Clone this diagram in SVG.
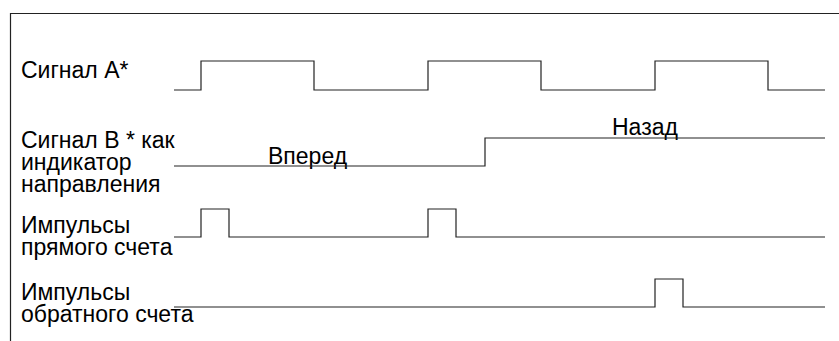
<svg xmlns="http://www.w3.org/2000/svg" width="839" height="341" viewBox="0 0 839 341">
<style>
.t{font-family:"Liberation Sans",Arial,sans-serif;font-size:23px;fill:#000}
.w{fill:none;stroke:#222;stroke-width:1.2}
.f{fill:none;stroke:#222;stroke-width:1.2}
</style>
<rect width="839" height="341" fill="#fff"/>
<g id="frame"><path class="f" d="M10.5,341 V13.5 H839"/></g>
<g id="labels">
<text class="t" x="21" y="78">Сигнал А*</text>
<text class="t" x="21" y="148">Сигнал В * как</text>
<text class="t" x="21" y="170">индикатор</text>
<text class="t" x="21" y="192">направления</text>
<text class="t" x="21" y="233">Импульсы</text>
<text class="t" x="21" y="255">прямого счета</text>
<text class="t" x="21" y="300">Импульсы</text>
<text class="t" x="21" y="322">обратного счета</text>
<text class="t" x="268" y="164">Вперед</text>
<text class="t" x="612" y="135">Назад</text>
</g>
<g id="waveforms">
<path id="sigA" class="w" d="M174,90 H201 V61 H314 V90 H428 V61 H541 V90 H655 V61 H768 V90 H825"/>
<path id="sigB" class="w" d="M174,166 H485 V138 H825"/>
<path id="up" class="w" d="M174,237 H201 V209 H229 V237 H428 V209 H456 V237 H825"/>
<path id="down" class="w" d="M174,307 H655 V279 H683 V307 H825"/>
</g>
</svg>
